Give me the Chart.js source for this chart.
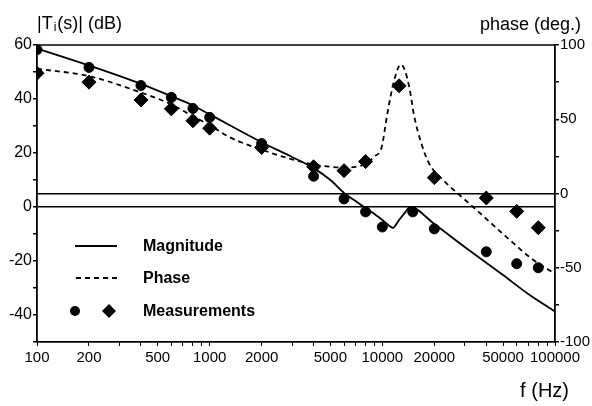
<!DOCTYPE html>
<html>
<head>
<meta charset="utf-8">
<script src="https://cdn.jsdelivr.net/npm/chart.js@4/dist/chart.umd.min.js"></script>
<style>
  body { margin: 0; background: #fff; }
</style>
</head>
<body>
<canvas id="chart1" width="592" height="406"></canvas>
<script>
// curva de magnitud |Ti(s)| en dB
const freqMagnitud = [100, 200, 400, 600, 800, 1000, 2000, 3000, 4000, 5000, 6000, 7000, 8000, 9000, 10000, 11000, 11500, 12500, 13500, 14500, 20000, 30000, 50000, 70000, 100000];
const magnitud = [58.7, 52.4, 45.6, 41, 37.6, 34.3, 24, 18.5, 14.4, 10, 5.2, 2.2, -0.4, -2.6, -4.8, -7, -7.7, -4.8, -2.2, 0, -6.3, -14.8, -25.2, -32.2, -38.7];

// curva de fase en grados
const freqFase = [100, 200, 400, 600, 800, 1000, 1300, 2000, 3000, 4000, 5000, 6000, 7000, 8000, 9000, 9900, 10700, 11700, 12800, 13500, 14300, 15300, 16800, 18700, 23000, 28000, 35000, 52000, 73500, 100000];
const fase = [84, 79, 68, 60, 52, 46, 38, 29.5, 23, 19.5, 18, 17.5, 18, 20, 25, 31, 54, 76, 87, 83, 72, 52, 34, 20, 8, -1, -11, -29, -44, -54];

// mediciones
const freqMedMagnitud = [100, 200, 400, 600, 800, 1000, 2000, 4000, 6000, 8000, 10000, 15000, 20000, 40000, 60000, 80000];
const medMagnitud = [58.3, 51.7, 45, 40.6, 36.5, 33.2, 23.5, 11.4, 3, -1.8, -7.4, -1.8, -8.1, -16.6, -21, -22.5];
const freqMedFase = [100, 200, 400, 600, 800, 1000, 2000, 4000, 6000, 8000, 12500, 20000, 40000, 60000, 80000];
const medFase = [81, 75, 63, 57, 49, 44, 31, 18, 15.4, 21.5, 72.5, 10.7, -3, -12, -23];

// etiquetas del eje x
const etiquetasX = [100, 200, 500, 1000, 2000, 5000, 10000, 20000, 50000, 100000];

function puntos(xs, ys) {
    return xs.map((x, i) => { return { x: x, y: ys[i] } });
}

const fuente = '"Liberation Sans", Arial, sans-serif';

const textosExtra = {
    id: 'textosExtra',
    afterDraw(chart) {
        const ctx = chart.ctx;
        const area = chart.chartArea;
        ctx.save();
        ctx.strokeStyle = '#000';
        ctx.lineWidth = 1.5;
        ctx.beginPath();
        ctx.moveTo(area.left, area.top);
        ctx.lineTo(area.right, area.top);
        ctx.stroke();

        ctx.fillStyle = '#000';
        ctx.textBaseline = 'alphabetic';
        ctx.font = '18px ' + fuente;
        let x = 37;
        ctx.fillText('|T', x, 29);
        x += ctx.measureText('|T').width;
        ctx.font = '12px ' + fuente;
        ctx.fillText('i', x + 1, 31);
        x += ctx.measureText('i').width + 2;
        ctx.font = '18px ' + fuente;
        ctx.fillText('(s)| (dB)', x, 29);

        ctx.textAlign = 'right';
        ctx.fillText('phase (deg.)', 581, 30);
        ctx.font = '20px ' + fuente;
        ctx.fillText('f (Hz)', 569, 397);

        // leyenda
        ctx.textAlign = 'left';
        ctx.textBaseline = 'middle';
        ctx.font = 'bold 16px ' + fuente;
        ctx.lineWidth = 1.8;
        ctx.beginPath();
        ctx.moveTo(75, 246);
        ctx.lineTo(117, 246);
        ctx.stroke();
        ctx.fillText('Magnitude', 143, 247);

        ctx.setLineDash([5, 4]);
        ctx.beginPath();
        ctx.moveTo(76, 278);
        ctx.lineTo(117, 278);
        ctx.stroke();
        ctx.setLineDash([]);
        ctx.fillText('Phase', 143, 279);

        ctx.beginPath();
        ctx.arc(75, 311, 5, 0, Math.PI * 2);
        ctx.fill();
        ctx.beginPath();
        ctx.moveTo(109, 304);
        ctx.lineTo(116, 311);
        ctx.lineTo(109, 318);
        ctx.lineTo(102, 311);
        ctx.closePath();
        ctx.fill();
        ctx.fillText('Measurements', 143, 312);
        ctx.restore();
    }
};

const data = {
    datasets: [{
        label: 'Magnitude',
        data: puntos(freqMagnitud, magnitud),
        yAxisID: 'y',
        borderColor: '#000',
        borderWidth: 1.8,
        pointRadius: 0,
        cubicInterpolationMode: 'monotone',
        fill: false
    }, {
        label: 'Phase',
        data: puntos(freqFase, fase),
        yAxisID: 'y2',
        borderColor: '#000',
        borderWidth: 1.8,
        borderDash: [5, 4],
        pointRadius: 0,
        cubicInterpolationMode: 'monotone',
        fill: false
    }, {
        label: 'Measurements',
        data: puntos(freqMedMagnitud, medMagnitud),
        yAxisID: 'y',
        showLine: false,
        pointStyle: 'circle',
        pointRadius: 5,
        backgroundColor: '#000',
        borderColor: '#000'
    }, {
        label: 'Measurements fase',
        data: puntos(freqMedFase, medFase),
        yAxisID: 'y2',
        showLine: false,
        pointStyle: 'rectRot',
        pointRadius: 7,
        backgroundColor: '#000',
        borderColor: '#000'
    }]
};

const config = {
    type: 'line',
    data: data,
    options: {
        responsive: false,
        animation: false,
        layout: { padding: { top: 45 } },
        plugins: {
            legend: { display: false },
            tooltip: { enabled: false }
        },
        scales: {
            x: {
                type: 'logarithmic',
                min: 100,
                max: 100000,
                afterBuildTicks: (eje) => {
                    const ticks = [];
                    for (let d = 100; d < 100000; d *= 10) {
                        for (let k = 1; k < 10; k++) ticks.push({ value: d * k });
                    }
                    ticks.push({ value: 100000 });
                    eje.ticks = ticks;
                },
                afterFit: (eje) => { eje.height = 64; },
                ticks: {
                    autoSkip: false,
                    maxRotation: 0,
                    padding: 3,
                    color: '#000',
                    font: { family: fuente, size: 15 },
                    callback: (valor) => etiquetasX.includes(valor) ? String(valor) : ''
                },
                grid: { drawOnChartArea: false, tickLength: 4, tickColor: '#000' },
                border: { color: '#000', width: 1.8 }
            },
            y: {
                position: 'left',
                min: -50,
                max: 60,
                afterFit: (eje) => { eje.width = 37; },
                ticks: {
                    stepSize: 10,
                    padding: 1,
                    color: '#000',
                    font: { family: fuente, size: 16 },
                    callback: (valor) => valor % 20 === 0 ? String(valor) : ''
                },
                grid: {
                    color: (ctx) => ctx.tick && ctx.tick.value === 0 ? '#000' : 'rgba(0,0,0,0)',
                    lineWidth: 1.5,
                    tickColor: '#000',
                    tickLength: 4
                },
                border: { color: '#000', width: 1.8 }
            },
            y2: {
                position: 'right',
                min: -100,
                max: 100,
                afterFit: (eje) => { eje.width = 37; },
                ticks: {
                    stepSize: 25,
                    padding: 1,
                    color: '#000',
                    font: { family: fuente, size: 15 },
                    callback: (valor) => valor % 50 === 0 ? String(valor) : ''
                },
                grid: {
                    color: (ctx) => ctx.tick && ctx.tick.value === 0 ? '#000' : 'rgba(0,0,0,0)',
                    lineWidth: 1.5,
                    tickColor: '#000',
                    tickLength: 4
                },
                border: { color: '#000', width: 1.8 }
            }
        }
    },
    plugins: [textosExtra]
};

const canva = document.getElementById('chart1');
const grafico = new Chart(canva, config);
</script>
</body>
</html>
